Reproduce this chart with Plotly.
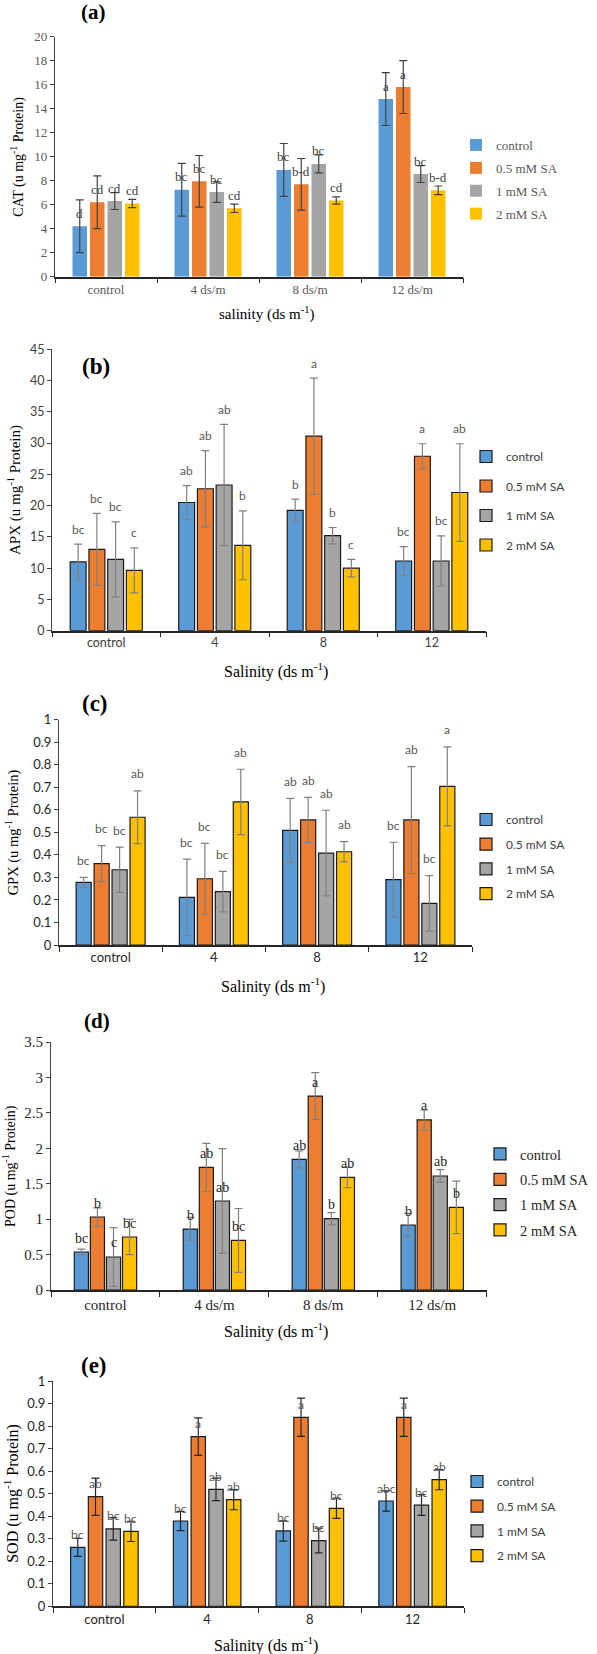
import plotly.graph_objects as go

W, H = 597, 1654
SERIF = "Liberation Serif, Times New Roman, serif"
SANS = "Lato, Carlito, Calibri, sans-serif"

series_names = ["control", "0.5 mM SA", "1 mM SA", "2 mM SA"]
series_colors = ["#5B9BD5", "#ED7D31", "#A5A5A5", "#FFC000"]

salinity_ds = ["control", "4 ds/m", "8 ds/m", "12 ds/m"]
salinity_num = ["control", "4", "8", "12"]

# (a) CAT  – one list per treatment, across the 4 salinity levels
cat_vals = [[4.2, 7.25, 8.9, 14.8], [6.2, 7.95, 7.7, 15.8], [6.3, 7.05, 9.4, 8.55], [6.1, 5.7, 6.35, 7.2]]
cat_errs = [[2.2, 2.2, 2.2, 2.2], [2.2, 2.15, 2.15, 2.2], [0.7, 0.85, 0.75, 0.7], [0.35, 0.35, 0.3, 0.36]]
cat_letters = [["d", "bc", "bc", "a"], ["cd", "bc", "b-d", "a"], ["cd", "bc", "bc", "bc"], ["cd", "cd", "cd", "b-d"]]

# (b) APX
apx_vals = [[11.0, 20.5, 19.25, 11.15], [13.0, 22.7, 31.1, 27.9], [11.4, 23.3, 15.2, 11.15], [9.65, 13.65, 10.0, 22.1]]
apx_errs = [[2.85, 2.7, 1.8, 2.3], [5.75, 6.1, 9.3, 2.0], [6.0, 9.7, 1.3, 4.0], [3.6, 5.5, 1.4, 7.8]]
apx_letters = [["bc", "ab", "b", "bc"], ["bc", "ab", "a", "a"], ["bc", "ab", "b", "bc"], ["c", "b", "c", "ab"]]

# (c) GPX
gpx_vals = [[0.278, 0.2115, 0.509, 0.29], [0.361, 0.294, 0.555, 0.555], [0.334, 0.237, 0.408, 0.185], [0.567, 0.635, 0.414, 0.704]]
gpx_errs = [[0.022, 0.17, 0.142, 0.166], [0.08, 0.157, 0.1, 0.237], [0.1, 0.09, 0.19, 0.123], [0.117, 0.145, 0.045, 0.175]]
gpx_letters = [["bc", "bc", "ab", "bc"], ["bc", "bc", "ab", "ab"], ["bc", "bc", "ab", "bc"], ["ab", "ab", "ab", "a"]]

# (d) POD
pod_vals = [[0.536, 0.86, 1.844, 0.917], [1.03, 1.73, 2.737, 2.4], [0.466, 1.256, 1.006, 1.609], [0.748, 0.70, 1.59, 1.167]]
pod_errs = [[0.04, 0.165, 0.12, 0.165], [0.13, 0.34, 0.33, 0.14], [0.415, 0.74, 0.085, 0.09], [0.25, 0.45, 0.145, 0.37]]
pod_letters = [["bc", "b", "ab", "b"], ["b", "ab", "a", "a"], ["c", "ab", "b", "ab"], ["bc", "bc", "ab", "b"]]

# (e) SOD
sod_vals = [[0.262, 0.379, 0.335, 0.468], [0.487, 0.754, 0.84, 0.84], [0.344, 0.52, 0.292, 0.45], [0.333, 0.474, 0.4355, 0.563]]
sod_errs = [[0.04, 0.043, 0.045, 0.045], [0.083, 0.083, 0.085, 0.085], [0.05, 0.05, 0.055, 0.046], [0.045, 0.045, 0.045, 0.045]]
sod_letters = [["bc", "bc", "bc", "abc"], ["ab", "a", "a", "a"], ["bc", "ab", "bc", "bc"], ["bc", "ab", "bc", "ab"]]

# ---------------- styles / layout per panel ----------------
panels = [
    dict(tag="(a)", vals=cat_vals, errs=cat_errs, letters=cat_letters, cats=salinity_ds, ymax=20, dtick=2,
         xdom=(55, 463), ydom=(36.7, 276.7), ytitle="CAT (u mg<sup>-1</sup> Protein)", xtitle="salinity (ds m<sup>-1</sup>)",
         tickfont=dict(family=SERIF, size=13, color="#595959"), titlefont=14, xtitlefont=15,
         ytx=18, xty=313, tagxy=(93, 12), tagsize=21,
         legfont=dict(family=SERIF, size=13, color="#595959"), legtext=(496, 145), leggap=3,
         labfont=dict(family=SERIF, size=13, color="#404040"), lab_on_err=False, labshift=13,
         outline=0, errcolor="#404040", group=0.686, barfrac=0.83),
    dict(tag="(b)", vals=apx_vals, errs=apx_errs, letters=apx_letters, cats=salinity_num, ymax=45, dtick=5,
         xdom=(52, 486), ydom=(349.3, 630.7), ytitle="APX (u mg<sup>-1</sup> Protein)", xtitle="Salinity (ds m<sup>-1</sup>)",
         tickfont=dict(family=SANS, size=12.5, color="#404040"), titlefont=15, xtitlefont=16,
         ytx=15, xty=670, tagxy=(96, 366), tagsize=23,
         legfont=dict(family=SANS, size=12, color="#404040"), legtext=(506, 457), leggap=10.5,
         labfont=dict(family=SANS, size=12, color="#595959"), lab_on_err=True, labshift=15,
         outline=1.2, errcolor="#808080", group=0.69, barfrac=0.85),
    dict(tag="(c)", vals=gpx_vals, errs=gpx_errs, letters=gpx_letters, cats=salinity_num, ymax=1, dtick=0.1,
         xdom=(59, 472), ydom=(719.7, 945), ytitle="GPX (u mg<sup>-1</sup> Protein)", xtitle="Salinity (ds m<sup>-1</sup>)",
         tickfont=dict(family=SANS, size=13, color="#262626"), titlefont=14.5, xtitlefont=16,
         ytx=12, xty=985, tagxy=(95, 703), tagsize=23,
         legfont=dict(family=SANS, size=12, color="#404040"), legtext=(506, 820), leggap=5.7,
         labfont=dict(family=SANS, size=12, color="#595959"), lab_on_err=True, labshift=17,
         outline=1.2, errcolor="#808080", group=0.696, barfrac=0.84),
    dict(tag="(d)", vals=pod_vals, errs=pod_errs, letters=pod_letters, cats=salinity_ds, ymax=3.5, dtick=0.5,
         xdom=(51, 486.7), ydom=(1042, 1290), ytitle="POD (u mg<sup>-1</sup> Protein)", xtitle="Salinity (ds m<sup>-1</sup>)",
         tickfont=dict(family=SERIF, size=15, color="#262626"), titlefont=14, xtitlefont=16,
         ytx=9, xty=1330, tagxy=(97, 1021), tagsize=21,
         legfont=dict(family=SERIF, size=14.5, color="#262626"), legtext=(520, 1153), leggap=3.5,
         labfont=dict(family=SERIF, size=14, color="#262626"), lab_on_err=False, labshift=14,
         outline=1.2, errcolor="#808080", group=0.59, barfrac=0.88),
    dict(tag="(e)", vals=sod_vals, errs=sod_errs, letters=sod_letters, cats=salinity_num, ymax=1, dtick=0.1,
         xdom=(53, 464), ydom=(1381.3, 1606.3), ytitle="SOD (u mg<sup>-1</sup> Protein)", xtitle="Salinity (ds m<sup>-1</sup>)",
         tickfont=dict(family=SANS, size=13, color="#262626"), titlefont=16, xtitlefont=16,
         ytx=12, xty=1644, tagxy=(94, 1365), tagsize=23,
         legfont=dict(family=SANS, size=12, color="#404040"), legtext=(497, 1482), leggap=5.7,
         labfont=dict(family=SANS, size=12, color="#595959"), lab_on_err=False, labshift=13,
         outline=1.2, errcolor="#262626", group=0.69, barfrac=0.81),
]

fig = go.Figure()
layout = dict(width=W, height=H, margin=dict(l=0, r=0, t=0, b=0, pad=0, autoexpand=False),
              paper_bgcolor="white", plot_bgcolor="white", barmode="overlay", showlegend=True)
annotations = []

def px(x):
    return x / W

def py(y):
    return 1 - y / H

for k, p in enumerate(panels, start=1):
    sfx = "" if k == 1 else str(k)
    xa, ya = "x" + sfx, "y" + sfx
    leg = "legend" + sfx
    slot = p["group"] / 4
    width = slot * p["barfrac"]
    for j in range(4):
        center = -p["group"] / 2 + slot * (j + 0.5)
        fig.add_trace(go.Bar(
            x=p["cats"], y=p["vals"][j], name=series_names[j],
            marker=dict(color=series_colors[j],
                        line=dict(width=p["outline"], color="#1a1a1a")),
            width=width, offset=center - width / 2,
            error_y=dict(type="data", array=p["errs"][j], visible=True,
                         color=p["errcolor"], thickness=1.2, width=4),
            xaxis=xa, yaxis=ya, legend=leg, legendgroup=f"p{k}s{j}",
            hoverinfo="skip",
        ))
        for i in range(4):
            yv = p["vals"][j][i] + (p["errs"][j][i] if p["lab_on_err"] else 0)
            annotations.append(dict(
                x=i + center, y=yv, xref=xa, yref=ya, text=p["letters"][j][i],
                showarrow=False, yshift=p["labshift"], yanchor="middle", xanchor="center",
                font=p["labfont"]))

    layout["xaxis" + sfx] = dict(
        domain=[px(p["xdom"][0]), px(p["xdom"][1])], anchor=ya, type="category",
        categoryorder="array", categoryarray=p["cats"], range=[-0.5, 3.5],
        tickson="boundaries", ticks="outside", ticklen=5, tickwidth=1.2, tickcolor="#262626",
        showline=True, linecolor="#262626", linewidth=1.5, showgrid=False, zeroline=False,
        tickfont=p["tickfont"], fixedrange=True, automargin=False)
    layout["yaxis" + sfx] = dict(
        domain=[py(p["ydom"][1]), py(p["ydom"][0])], anchor=xa, range=[0, p["ymax"]],
        dtick=p["dtick"], tick0=0, ticks="outside", ticklen=4, tickwidth=1, tickcolor="#404040",
        showline=True, linecolor="#404040", linewidth=1.2, showgrid=False, zeroline=False,
        tickfont=p["tickfont"], fixedrange=True, automargin=False)
    layout[leg] = dict(
        x=px(p["legtext"][0] - 40), xanchor="left",
        y=py(p["legtext"][1] - 15), yanchor="top",
        font=p["legfont"], traceorder="grouped", tracegroupgap=p["leggap"],
        bgcolor="rgba(0,0,0,0)", borderwidth=0)

    annotations.append(dict(text=p["ytitle"], x=px(p["ytx"]), y=py((p["ydom"][0] + p["ydom"][1]) / 2),
                            xref="paper", yref="paper", showarrow=False, textangle=-90,
                            xanchor="center", yanchor="middle",
                            font=dict(family=SERIF, size=p["titlefont"], color="black")))
    annotations.append(dict(text=p["xtitle"], x=px((p["xdom"][0] + p["xdom"][1]) / 2 + 7),
                            y=py(p["xty"]), xref="paper", yref="paper", showarrow=False,
                            xanchor="center", yanchor="middle",
                            font=dict(family=SERIF, size=p["xtitlefont"], color="black")))
    annotations.append(dict(text="<b>" + p["tag"] + "</b>", x=px(p["tagxy"][0]), y=py(p["tagxy"][1]),
                            xref="paper", yref="paper", showarrow=False,
                            xanchor="center", yanchor="middle",
                            font=dict(family=SERIF, size=p["tagsize"], color="black")))

layout["annotations"] = annotations
fig.update_layout(**layout)
fig.write_html("out.html", config={"displayModeBar": False},
               post_script="document.body.style.margin='0';")
